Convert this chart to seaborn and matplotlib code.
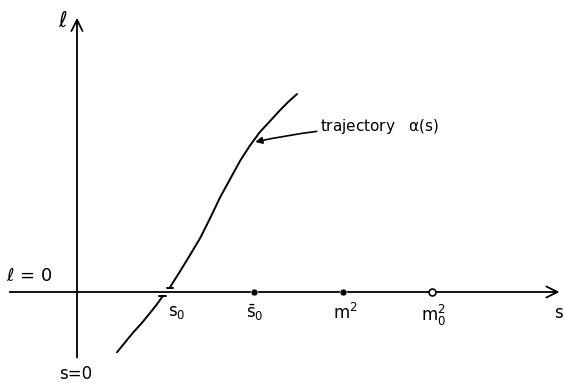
import numpy as np
import pandas as pd
import seaborn as sns
import matplotlib.pyplot as plt

sns.set_style("white")
plt.rcParams['font.family'] = ['DejaVu Sans']
plt.rcParams['mathtext.fontset'] = 'dejavusans'
plt.rcParams['mathtext.default'] = 'regular'
plt.rcParams['text.color'] = 'black'

# trajectory alpha(s) (s in units of s0)
s_low = [0.45, 0.54, 0.63, 0.73, 0.82, 0.90, 0.96]
l_low = [-0.68, -0.57, -0.46, -0.35, -0.24, -0.14, -0.056]
s_up = [1.05, 1.16, 1.27, 1.39, 1.50, 1.61, 1.73, 1.84, 1.95, 2.06, 2.18, 2.29, 2.39, 2.48]
l_up = [0.056, 0.23, 0.41, 0.61, 0.83, 1.06, 1.28, 1.48, 1.65, 1.80, 1.93, 2.05, 2.15, 2.23]

# marked points on the s axis
pt_s = [2.0, 3.0, 4.0]
pt_filled = [True, True, False]
tick_labels = ["$s_0$", "$\\bar{s}_0$", "$m^2$", "$m_0^2$"]
tick_pos = [1.12, 2.0, 3.02, 4.02]

low = pd.DataFrame({"s": s_low, "l": l_low})
up = pd.DataFrame({"s": s_up, "l": l_up})
pts = pd.DataFrame({"s": pt_s, "l": [0.0] * 3, "filled": pt_filled})

fig = plt.figure(figsize=(5.64, 3.85), dpi=100)
ax = fig.add_axes([0, 0, 1, 1])
ax.set_xlim(-0.868, 5.49)
ax.set_ylim(-1.048, 3.29)
ax.axis("off")

# axes with arrows
ax.annotate("", xy=(5.47, 0), xytext=(-0.79, 0),
            arrowprops=dict(arrowstyle="->", lw=1.3, color="black", mutation_scale=20))
ax.annotate("", xy=(0, 3.12), xytext=(0, -0.77),
            arrowprops=dict(arrowstyle="->", lw=1.3, color="black", mutation_scale=20))

sns.lineplot(data=low, x="s", y="l", sort=False, color="black", lw=1.4, ax=ax)
sns.lineplot(data=up, x="s", y="l", sort=False, color="black", lw=1.4, ax=ax)
# little bars where the curve meets the axis
ax.plot([0.93, 1.00], [-0.045, -0.045], color="black", lw=1.4)
ax.plot([1.02, 1.08], [0.045, 0.045], color="black", lw=1.4)

sns.scatterplot(data=pts[pts.filled], x="s", y="l", color="black", s=25, ax=ax, zorder=5)
sns.scatterplot(data=pts[~pts.filled], x="s", y="l", facecolor="white", edgecolor="black",
                linewidth=1.2, s=25, ax=ax, zorder=5)

for lab, x in zip(tick_labels, tick_pos):
    ax.text(x, -0.12, lab, ha="center", va="top", fontsize=12)

ax.text(5.38, -0.13, "s", ha="left", va="top", fontsize=12)
ax.text(-0.015, -0.82, "s=0", ha="center", va="top", fontsize=12)
ax.text(-0.80, 0.08, "$\\ell$ = 0", ha="left", va="bottom", fontsize=13)
ax.text(-0.10, 3.05, "$\\ell$", ha="right", va="center", fontsize=15)

ax.annotate("trajectory   $\\alpha$(s)", xy=(2.01, 1.69), xytext=(2.74, 1.86),
            fontsize=11, va="center",
            arrowprops=dict(arrowstyle="-|>", lw=1.2, color="black",
                            mutation_scale=10, shrinkA=0, shrinkB=0,
                            connectionstyle="arc3,rad=0.05"))

fig.savefig("out.png", dpi=100)
